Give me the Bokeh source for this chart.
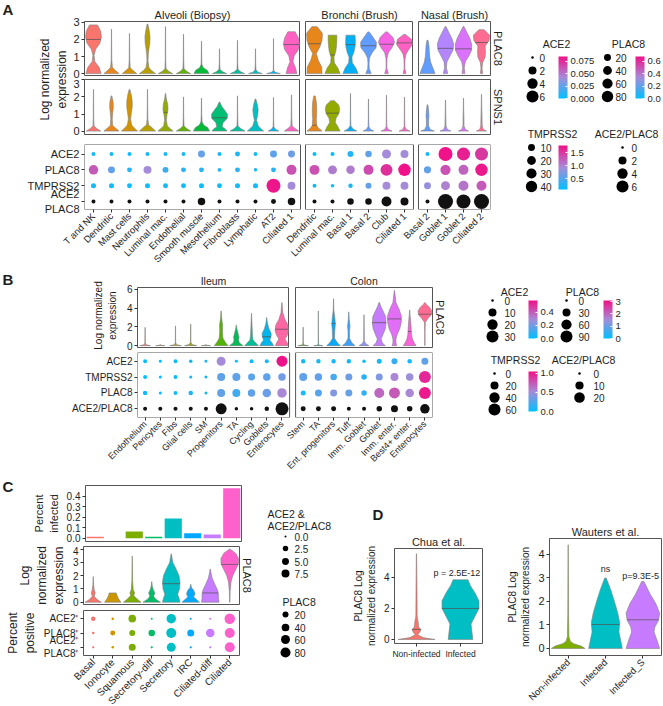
import numpy as np
from bokeh.plotting import figure
from bokeh.layouts import row, column
from bokeh.models import (Range1d, FixedTicker, LinearColorMapper, ColorBar, Title,
                          PrintfTickFormatter, ColumnDataSource, BoxAnnotation)
from bokeh.transform import transform
from bokeh.core.properties import value
from bokeh.embed import file_html
from bokeh.resources import INLINE

# ============================ DATA ============================
A_FACETS = ["Alveoli (Biopsy)", "Bronchi (Brush)", "Nasal (Brush)"]
A_ALV = ["T and NK", "Dendritic", "Mast cells", "Neutrophils", "Luminal mac.", "Endothelial",
         "Smooth muscle", "Mesothelium", "Fibroblasts", "Lymphatic", "AT2", "Ciliated 1"]
A_BRO = ["Dendritic", "Luminal mac.", "Basal 1", "Basal 2", "Club", "Ciliated 1"]
A_NAS = ["Basal 2", "Goblet 1", "Goblet 2", "Ciliated 2"]
A_ROWS = ["ACE2", "PLAC8", "TMPRSS2", "ACE2\nPLAC8"]
A_STRIPS = ["PLAC8", "SPNS1"]

A_PLAC8_ALV = [
    [0, .42, .36, .32, .71, .07, 1.07, .03, 1.43, .12, 1.78, .36, 2.14, .44, 2.49, .40, 2.85, .22],
    [0, .42, .2, .2, .37, .05, .8, .015, 1.5, .01, 2.6, .004],
    [0, .40, .2, .18, .34, .04, .8, .015, 1.5, .01, 2.35, .004],
    [0, .45, .2, .2, .36, .08, .73, .03, 1.09, .04, 1.45, .08, 1.81, .13, 2.18, .14, 2.54, .09, 2.9, .02],
    [0, .40, .15, .15, .3, .03, .8, .012, 1.5, .01, 2.75, .004],
    [0, .40, .15, .15, .3, .03, .8, .012, 1.5, .008, 2.3, .004],
    [0, .42, .2, .32, .35, .1, .55, .02, 1.0, .012, 1.9, .004],
    [0, .40, .12, .15, .25, .03, .6, .012, 1.45, .004],
    [0, .40, .12, .15, .25, .03, .6, .012, 1.95, .004],
    [0, .38, .1, .12, .22, .03, .6, .01, 1.45, .004],
    [0, .38, .08, .1, .18, .015, .6, .006, 2.05, .003],
    [0, .30, .35, .22, .7, .08, 1.05, .15, 1.4, .38, 1.75, .45, 2.1, .38, 2.45, .2],
]
A_PLAC8_ALV_MED = [2.0, None, None, None, None, None, None, None, None, None, None, 1.7]
A_PLAC8_BRO = [
    [0, .42, .39, .40, .79, .2, 1.18, .1, 1.57, .3, 1.96, .42, 2.36, .44, 2.75, .15],
    [0, .42, .32, .3, .64, .1, .96, .08, 1.29, .18, 1.61, .22, 1.93, .24, 2.25, .24],
    [0, .42, .32, .3, .64, .1, .96, .08, 1.29, .2, 1.61, .26, 1.93, .27, 2.25, .25],
    [0, .15, .3, .04, .61, .03, .91, .05, 1.22, .2, 1.52, .42, 1.83, .44, 2.13, .25, 2.44, .04],
    [0, .1, .3, .02, .61, .02, .91, .03, 1.22, .1, 1.52, .3, 1.83, .45, 2.13, .35, 2.44, .05],
    [0, .08, .29, .02, .57, .02, .86, .03, 1.14, .08, 1.43, .25, 1.71, .44, 2.0, .40, 2.29, .05],
]
A_PLAC8_BRO_MED = [1.75, 1.1, 1.7, 1.63, 1.72, 1.8]
A_PLAC8_NAS = [
    [0, .42, .33, .30, .65, .18, .98, .12, 1.3, .10, 1.63, .08, 1.95, .03],
    [0, .12, .35, .05, .69, .08, 1.04, .25, 1.38, .42, 1.73, .45, 2.07, .35, 2.42, .18, 2.76, .02],
    [0, .08, .35, .04, .69, .1, 1.04, .3, 1.38, .45, 1.73, .45, 2.07, .35, 2.42, .18, 2.76, .02],
    [0, .06, .32, .03, .64, .06, .96, .2, 1.29, .22, 1.61, .2, 1.93, .42, 2.25, .45, 2.57, .15],
]
A_PLAC8_NAS_MED = [None, 1.48, 1.45, 1.82]
A_SPNS1_ALV = [
    [0, .40, .15, .18, .3, .03, .8, .012, 1.5, .01, 2.44, .004],
    [0, .42, .2, .2, .34, .06, .69, .04, 1.03, .06, 1.37, .10, 1.71, .09, 2.06, .02],
    [0, .45, .2, .25, .35, .12, .7, .06, 1.05, .1, 1.4, .15, 1.75, .15, 2.1, .1, 2.44, .02],
    [0, .45, .2, .25, .35, .06, .7, .02, 1.5, .01, 2.44, .004],
    [0, .42, .2, .2, .31, .10, .63, .05, .94, .08, 1.26, .14, 1.57, .12, 1.88, .05, 2.2, .01],
    [0, .40, .15, .18, .3, .03, .8, .012, 2.0, .004],
    [0, .45, .2, .35, .35, .12, .55, .03, 1.0, .012, 1.93, .004],
    [0, .42, .15, .3, .24, .15, .49, .2, .73, .42, .97, .45, 1.21, .3, 1.46, .12, 1.7, .02],
    [0, .42, .15, .18, .3, .03, .8, .012, 2.06, .004],
    [0, .45, .2, .25, .31, .15, .63, .06, .94, .12, 1.25, .15, 1.56, .10, 1.88, .02],
    [0, .30, .12, .1, .25, .02, .8, .008, 1.97, .003],
    [0, .40, .15, .2, .3, .04, .8, .015, 2.12, .005],
]
A_SPNS1_ALV_MED = [None, None, None, None, 1.1, None, None, 0.78, None, None, None, None]
A_SPNS1_BRO = [
    [0, .42, .2, .2, .34, .12, .69, .1, 1.03, .12, 1.37, .12, 1.71, .1, 2.06, .04],
    [0, .42, .25, .3, .51, .15, .76, .2, 1.02, .35, 1.27, .4, 1.52, .35, 1.78, .1],
    [0, .35, .12, .15, .3, .02, .8, .01, 2.2, .004],
    [0, .30, .1, .12, .25, .02, .8, .01, 1.88, .004],
    [0, .30, .1, .1, .25, .02, .8, .01, 2.1, .004],
    [0, .30, .1, .1, .25, .02, .8, .01, 2.0, .004],
]
A_SPNS1_BRO_MED = [0.34, 1.05, None, None, None, None]
A_SPNS1_NAS = [
    [0, .38, .1, .15, .3, .06, .6, .06, .9, .08, 1.2, .06, 1.54, .02],
    [0, .30, .1, .1, .3, .03, .8, .02, 1.3, .01, 1.82, .004],
    [0, .28, .1, .1, .3, .03, .8, .025, 1.3, .01, 1.93, .004],
    [0, .28, .1, .1, .3, .04, .8, .03, 1.4, .015, 2.15, .004],
]
A_SPNS1_NAS_MED = [None, None, None, None]

A_ACE2_PCT = [0.15, 0.15, 0.15, 0.15, 0.15, 0.15, 1.3, 0.15, 0.4, 0.15, 1.3, 1.3,
              0.15, 0.15, 0.8, 1.05, 2.8, 2.0, 0.15, 8.7, 7.3, 7.3]
A_ACE2_AVG = [0.004, 0.004, 0.004, 0.004, 0.004, 0.004, 0.026, 0.004, 0.006, 0.004, 0.024, 0.028,
              0.002, 0.002, 0.01, 0.024, 0.042, 0.042, 0.004, 0.085, 0.08, 0.072]
A_PLAC8_PCT = [49, 20, 6, 30, 12, 6, 6, 2, 6, 1, 6, 56,
               56, 42, 36, 56, 90, 100, 22, 60, 56, 100]
A_PLAC8_AVG = [0.48, 0.2, 0.08, 0.34, 0.12, 0.08, 0.08, 0.06, 0.08, 0.04, 0.08, 0.5,
               0.5, 0.38, 0.38, 0.52, 0.6, 0.68, 0.2, 0.5, 0.45, 0.66]
A_TMPRSS2_PCT = [3.2, 3.2, 3.0, 3.2, 3.2, 3.0, 3.2, 3.0, 3.2, 3.2, 67, 15,
                 1.1, 0.5, 2.0, 6.3, 15, 15, 10, 21, 29, 29]
A_TMPRSS2_AVG = [0.17, 0.17, 0.16, 0.17, 0.17, 0.16, 0.18, 0.16, 0.17, 0.18, 1.75, 0.94,
                 0.15, 0.15, 0.2, 0.6, 0.94, 0.94, 0.85, 1.02, 1.1, 1.28]
A_RATIO_PCT = [0.15, 0.15, 0.15, 0.15, 0.15, 0.15, 1.64, 0.15, 0.15, 0.15, 0.4, 1.64,
               0.15, 0.15, 1.05, 1.05, 3.7, 2.0, 0.15, 10.3, 8.7, 10.3]

B_FACETS = ["Ileum", "Colon"]
B_ILE = ["Endothelium", "Pericytes", "Fibs", "Glial cells", "SM", "Progenitors", "TA",
         "Cycling", "Goblets", "Enterocytes"]
B_COL = ["Stem", "TA", "Ent. progenitors", "Tuft", "Imm. Goblet", "Goblet", "Imm. enter.",
         "Best4+ enter.", "Enterocytes"]
B_ROWS = ["ACE2", "TMPRSS2", "PLAC8", "ACE2/PLAC8"]
B_ILE_V = [
    [0, .35, .1, .06, .3, .012, 1.95, .004],
    [0, .30, .05, .02, .12, .004],
    [0, .38, .1, .08, .3, .012, 2.1, .004],
    [0, .40, .12, .1, .35, .015, 2.3, .004],
    [0, .30, .05, .02, .12, .004],
    [0, .45, .3, .3, .8, .12, 1.5, .09, 2.2, .1, 2.9, .04, 3.7, .005],
    [0, .45, .3, .2, .6, .15, .9, .18, 1.3, .12, 1.8, .04, 2.2, .005],
    [0, .45, .25, .3, .6, .1, 1.2, .06, 2.0, .04, 2.8, .02, 3.45, .004],
    [0, .45, .3, .35, .6, .2, .9, .28, 1.3, .3, 1.8, .15, 2.4, .05, 3.0, .005],
    [0, .42, .3, .35, .7, .2, 1.1, .35, 1.6, .45, 2.2, .4, 2.8, .2, 3.5, .06, 4.6, .005],
]
B_ILE_MED = [None, None, None, None, None, None, None, None, 0.95, 1.75]
B_COL_V = [
    [0, .35, .08, .05, .3, .01, 1.97, .004],
    [0, .30, .06, .03, .3, .008, 3.7, .004],
    [0, .45, .3, .25, .8, .06, 1.6, .08, 2.3, .12, 3.0, .08, 3.8, .02, 5.0, .004],
    [0, .42, .3, .2, .8, .05, 1.5, .05, 2.1, .08, 2.8, .03, 3.6, .004],
    [0, .32, .2, .12, .5, .02, 3.3, .004],
    [0, .40, .3, .2, .7, .12, 1.2, .25, 1.8, .4, 2.4, .45, 3.1, .42, 3.7, .25, 4.2, .1, 4.6, .02],
    [0, .15, .3, .1, .7, .1, 1.2, .18, 1.8, .35, 2.5, .45, 3.2, .45, 3.9, .3, 4.6, .1, 5.9, .005],
    [0, .42, .3, .3, .7, .18, 1.2, .12, 1.8, .1, 2.5, .07, 3.2, .03, 3.8, .004],
    [0, .01, 1.5, .01, 2.5, .03, 2.9, .2, 3.3, .42, 3.7, .45, 4.1, .3, 4.4, .1, 4.6, .01],
]
B_COL_MED = [None, None, 2.35, None, None, 2.45, 2.85, 1.5, 3.35]

B_ACE2_PCT = [0.74, 0.08, 0.74, 0.33, 0.08, 14, 0.08, 0.74, 0.74, 24,
              1.3, 1.3, 1.3, 1.3, 0.33, 2.1, 4.0, 1.3, 6.7]
B_ACE2_AVG = [0.02, 0.01, 0.02, 0.01, 0.01, 0.29, 0.01, 0.02, 0.03, 0.58,
              0.03, 0.03, 0.03, 0.03, 0.02, 0.04, 0.1, 0.04, 0.17]
B_TMPRSS2_PCT = [1.5, 0.17, 1.5, 0.17, 0.17, 20, 20, 13.4, 16.5, 16.5,
                 20, 16.5, 10.6, 13.4, 6.0, 13.4, 20, 16.5, 60]
B_TMPRSS2_AVG = [0.03, 0.02, 0.03, 0.02, 0.02, 0.3, 0.3, 0.28, 0.3, 0.36,
                 0.3, 0.3, 0.22, 0.35, 0.12, 0.4, 0.55, 0.5, 0.95]
B_PLAC8_PCT = [4.0, 0.25, 2.25, 4.0, 0.25, 30, 30, 25, 36, 49,
               6.25, 20, 20, 20, 9, 56, 72, 36, 90]
B_PLAC8_AVG = [0.15, 0.1, 0.15, 0.2, 0.1, 0.9, 0.6, 0.9, 1.0, 1.6,
               0.15, 0.8, 1.2, 0.95, 0.45, 2.0, 2.2, 1.6, 3.0]
B_RATIO_PCT = [0.7, 0.7, 0.7, 0.7, 0.7, 22, 0.3, 0.3, 1.2, 34,
               1.9, 1.9, 1.9, 0.7, 0.7, 2.8, 6.25, 2.8, 15]

C_CELLS = ["Basal", "Ionocyte", "Squamous", "Secretory-diff", "Secretory", "IRC",
           "Ciliated-diff", "Ciliated"]
C_INFECTED = [0.015, 0.0, 0.065, 0.015, 0.187, 0.048, 0.037, 0.475]
C_V = [
    [0, .42, .2, .2, .45, .05, .7, .1, .95, .05, 1.3, .02, 1.93, .004],
    [0, .42, .15, .35, .3, .28, .5, .22, .7, .18],
    [0, .45, .25, .25, .5, .08, .7, .12, .95, .05, 1.6, .02, 3.48, .004],
    [0, .45, .25, .2, .45, .1, .7, .16, .95, .08, 1.2, .03, 1.55, .004],
    [0, .45, .3, .4, .6, .33, 1.0, .42, 1.5, .45, 2.0, .4, 2.5, .25, 3.0, .08, 3.64, .01],
    [0, .45, .2, .3, .4, .15, .65, .22, .9, .15, 1.1, .04, 1.35, .004],
    [0, .45, .3, .42, .6, .42, .9, .38, 1.3, .25, 1.8, .1, 2.2, .04, 2.5, .004],
    [0, .01, .8, .02, 1.5, .06, 2.0, .15, 2.5, .32, 2.9, .45, 3.3, .45, 3.7, .3, 4.0, .02],
]
C_MED = [None, None, None, None, 1.4, None, 0.7, 2.85]
C_ROWS = ["ACE2\u207a", "PLAC8\u207a", "ACE2\u207a\nPLAC8\u207a"]
C_ACE2_PCT = [1.3, 0.05, 6.5, 0.0, 11.6, 0.0, 0.0, 15.0]
C_PLAC8_PCT = [0.3, 11, 20, 25, 79, 31, 52, 79]
C_BOTH_PCT = [0.02, 0.05, 5.2, 0.01, 10.1, 0.01, 0.01, 13.2]

D_CHUA = ["Non-infected", "Infected"]
D_CHUA_V = [
    [0, .42, .12, .15, .3, .03, .5, .08, .65, .1, .8, .05, 1.1, .04, 1.5, .015, 3.5, .01, 5.53, .003],
    [0, .28, .5, .26, 1.0, .24, 1.5, .33, 2.0, .42, 2.5, .42, 3.0, .33, 3.5, .22, 3.85, .17],
]
D_CHUA_MED = [0.65, 2.0]
D_CHUA_P = ["p = 2.5E-12"]
D_CHUA_P_Y = [4.3]
D_WAU = ["Non-infected", "Infected", "Infected_S"]
D_WAU_V = [
    [0, .45, .1, .35, .2, .15, .3, .06, .5, .02, 1.5, .01, 4.41, .003],
    [0, .45, .4, .4, .7, .36, 1.1, .38, 1.5, .33, 2.0, .24, 2.5, .14, 3.0, .02],
    [0, .45, .35, .38, .7, .3, .9, .32, 1.2, .42, 1.5, .45, 1.9, .35, 2.3, .2, 2.85, .03],
]
D_WAU_MED = [None, 1.02, 1.22]
D_WAU_P = ["ns", "p=9.3E-5"]
D_WAU_P_Y = [3.4, 3.1]

# ============================ STYLE ============================
A_ALV_COL = ["#F8766D", "#E7861B", "#D39200", "#B79F00", "#93AA00", "#5EB300",
             "#00BA38", "#00BF74", "#00C19F", "#00BFC4", "#00B4F0", "#FF61C3"]
A_BRO_COL = ["#E7861B", "#93AA00", "#00B0F6", "#619CFF", "#F564E3", "#FF61C3"]
A_NAS_COL = ["#619CFF", "#B385FF", "#DB72FB", "#FF6C91"]
B_ILE_COL = ["#F8766D", "#D89000", "#BB9D00", "#A3A500", "#7CAE00", "#53B400",
             "#00BC56", "#00C094", "#00B6EB", "#FF67A4"]
B_COL_COL = ["#39B600", "#00BF7D", "#00ABFD", "#35A2FF", "#8F91FF", "#C77CFF",
             "#E36EF6", "#FA62DB", "#FF6C91"]
C_COL = ["#F8766D", "#CD9600", "#7CAE00", "#00BE67", "#00BFC4", "#00A9FF", "#C77CFF", "#FF61CC"]
D_CHUA_COL = ["#F8766D", "#00BFC4"]
D_WAU_COL = ["#7CAE00", "#00BFC4", "#C77CFF"]

FONT = "Liberation Sans"
TXT = "#1e1e1e"
EDGE = "#555555"
VLINE = "#808080"

def ramp(stops, n=256):
    rgb = [tuple(int(h[i:i + 2], 16) for i in (1, 3, 5)) for h in stops]
    m = len(rgb) - 1
    out = []
    for i in range(n):
        t = i / (n - 1) * m
        k = min(int(t), m - 1)
        f = t - k
        c = [round(rgb[k][j] + (rgb[k + 1][j] - rgb[k][j]) * f) for j in range(3)]
        out.append("#%02x%02x%02x" % tuple(c))
    return out

PAL = ramp(["#00BFFF", "#A68CD8", "#F01288"])

def style_axis(ax, fs="10px"):
    ax.axis_line_color = None
    ax.major_tick_line_color = "#333333"
    ax.major_tick_out = 3
    ax.major_tick_in = 0
    ax.minor_tick_line_color = None
    ax.major_label_text_font = FONT
    ax.major_label_text_font_size = fs
    ax.major_label_text_color = TXT
    ax.major_label_standoff = 2
    ax.axis_label_text_font = FONT
    ax.axis_label_text_font_style = "normal"
    ax.axis_label_text_color = TXT
    ax.axis_label_standoff = 4

def mk(fw, fh, xr, yr, l=0, r=0, t=0, b=0, xaxis=True, yaxis=True, outline=True, title=None,
       title_size="11px"):
    p = figure(frame_width=fw, frame_height=fh, x_range=Range1d(*xr), y_range=Range1d(*yr),
               output_backend="svg", toolbar_location=None, title=title,
               x_axis_location="below" if xaxis else None,
               y_axis_location="left" if yaxis else None,
               min_border_left=l, min_border_right=r, min_border_top=t, min_border_bottom=b)
    p.grid.visible = False
    p.outline_line_color = EDGE if outline else None
    p.outline_line_width = 1
    p.background_fill_color = "white"
    p.border_fill_color = "white"
    for ax in p.axis:
        style_axis(ax)
    if title is not None:
        p.title.text_font = FONT
        p.title.text_font_size = title_size
        p.title.text_font_style = "normal"
        p.title.text_color = TXT
        p.title.align = "center"
        p.title.standoff = 2
    return p

def right_strip(p, text):
    p.add_layout(Title(text=text, align="center", text_font=FONT, text_font_size="11px",
                       text_font_style="normal", text_color=TXT, standoff=3), "right")

def draw_violins(p, xs, shapes, medians, colors):
    px, py = [], []
    for x, k in zip(xs, shapes):
        y = np.asarray(k[0::2], float)
        w = np.asarray(k[1::2], float)
        px.append(np.concatenate([x - w, (x + w)[::-1]]).tolist())
        py.append(np.concatenate([y, y[::-1]]).tolist())
    p.patches(px, py, fill_color=list(colors), line_color=VLINE, line_width=0.6)
    x0, x1, ym = [], [], []
    for x, k, m in zip(xs, shapes, medians):
        if m is None:
            continue
        hw = float(np.interp(m, np.asarray(k[0::2], float), np.asarray(k[1::2], float)))
        x0.append(x - hw); x1.append(x + hw); ym.append(m)
    if ym:
        p.segment(x0, ym, x1, ym, line_color="#505050", line_width=0.7)

def draw_dots(p, xs, yrow, pct, k, dmin, fill=None, mapper=None, avg=None):
    data = dict(x=list(xs), y=[yrow] * len(xs), size=[dmin + k * np.sqrt(v) for v in pct])
    if mapper is not None:
        data["avg"] = list(avg)
        fc = transform("avg", mapper)
    elif isinstance(fill, list):
        data["fc"] = fill
        fc = "fc"
    else:
        fc = fill
    p.scatter("x", "y", size="size", source=ColumnDataSource(data), fill_color=fc, line_color=None)

def dot_axes(p, xs, names, rows, xfs="10px", yfs="11px"):
    p.xaxis.ticker = FixedTicker(ticks=list(xs))
    p.xaxis.major_label_overrides = {x: n for x, n in zip(xs, names)}
    p.xaxis.major_label_orientation = np.pi / 4
    p.xaxis.major_label_text_font_size = xfs
    n = len(rows)
    p.yaxis.ticker = FixedTicker(ticks=list(range(n)))
    p.yaxis.major_label_overrides = {n - 1 - i: r for i, r in enumerate(rows)}
    p.yaxis.major_label_text_font_size = yfs

def free_fig(x0, y0, w, h):
    # text-only canvas, wrapped in its own column so that no frame alignment is applied
    p = figure(frame_width=w, frame_height=h, x_range=Range1d(x0, x0 + w),
               y_range=Range1d(-(y0 + h), -y0),
               output_backend="svg", toolbar_location=None, x_axis_location=None,
               y_axis_location=None, min_border=0, min_border_left=0, min_border_right=0,
               min_border_top=0, min_border_bottom=0, title=None)
    p.grid.visible = False
    p.outline_line_color = None
    p.background_fill_color = "white"
    p.border_fill_color = "white"
    return p

def txt(p, xs, ys, texts, size="10px", align="left", baseline="middle", angle=0.0, style="normal"):
    p.text(x=list(xs), y=[-v for v in ys], text=list(texts), text_font=value(FONT),
           text_font_size=size, text_align=align, text_baseline=baseline, angle=angle,
           text_color=TXT, text_font_style=style)

def size_key(p, x_dot, x_lab, ys, breaks, labels, k, dmin):
    p.scatter(x=[x_dot] * len(breaks), y=[-v for v in ys],
              size=[dmin + k * np.sqrt(b) for b in breaks], fill_color="black", line_color=None)
    txt(p, [x_lab] * len(breaks), ys, labels, size="10px")

def cbar(p, mapper, ticks, fmt, x, ytop, ybot, x0, y0, h):
    cb = ColorBar(color_mapper=mapper, ticker=FixedTicker(ticks=ticks),
                  formatter=PrintfTickFormatter(format=fmt), orientation="vertical",
                  width=9, height=ybot - ytop, location=(x - x0, y0 + h - ybot),
                  padding=0, margin=0, bar_line_color=None, major_tick_line_color="white",
                  major_tick_in=2, major_tick_out=0, minor_tick_line_color=None, label_standoff=3,
                  major_label_text_font=FONT, major_label_text_font_size="9.5px",
                  major_label_text_color=TXT, background_fill_alpha=0, border_line_color=None)
    p.add_layout(cb)

R = row
C = column

# ============================ PANEL A ============================
A_YR1 = (-0.11, 3.05)
A_YR2 = (-0.2, 3.02)
A_W = [216, 108, 72]
A_L = [14, 5, 5]
A_R = [0, 0, 18]
A_T, A_H1, A_B1, A_H2, A_B2 = 21, 54, 4, 55, 5
A_DT, A_DH, A_DB = 5, 65, 59
A_HEIGHT = A_T + A_H1 + A_B1 + A_H2 + A_B2 + A_DT + A_DH + A_DB
a_v1, a_v2 = [], []
for fi, (cats, sh1, m1, sh2, m2, cols) in enumerate([
        (A_ALV, A_PLAC8_ALV, A_PLAC8_ALV_MED, A_SPNS1_ALV, A_SPNS1_ALV_MED, A_ALV_COL),
        (A_BRO, A_PLAC8_BRO, A_PLAC8_BRO_MED, A_SPNS1_BRO, A_SPNS1_BRO_MED, A_BRO_COL),
        (A_NAS, A_PLAC8_NAS, A_PLAC8_NAS_MED, A_SPNS1_NAS, A_SPNS1_NAS_MED, A_NAS_COL)]):
    n = len(cats)
    xs = list(range(n))
    p1 = mk(A_W[fi], A_H1, (-0.5, n - 0.5), A_YR1, l=A_L[fi], r=A_R[fi], t=A_T, b=A_B1,
            xaxis=False, yaxis=(fi == 0), title=A_FACETS[fi])
    p2 = mk(A_W[fi], A_H2, (-0.5, n - 0.5), A_YR2, l=A_L[fi], r=A_R[fi], t=0, b=A_B2,
            xaxis=False, yaxis=(fi == 0))
    if fi == 0:
        for p in (p1, p2):
            p.yaxis.ticker = FixedTicker(ticks=[0, 1, 2, 3])
            p.yaxis.major_label_text_font_size = "11px"
    draw_violins(p1, xs, sh1, m1, cols)
    draw_violins(p2, xs, sh2, m2, cols)
    if fi == 2:
        right_strip(p1, A_STRIPS[0])
        right_strip(p2, A_STRIPS[1])
    a_v1.append(p1)
    a_v2.append(p2)

ylabA = free_fig(0, 0, 70, A_T + A_H1 + A_B1 + A_H2 + A_B2)
txt(ylabA, [2], [9], ["A"], size="15px", style="bold")
txt(ylabA, [53], [79], ["Log normalized\nexpression"], size="12px", align="center", angle=np.pi / 2)

slotA = 216 / 12.0
gA = 5 / slotA
xs_A = ([float(i) for i in range(12)] + [round(12 + gA + j, 4) for j in range(6)]
        + [round(18 + 2 * gA + j, 4) for j in range(4)])
dotA = figure(frame_width=216 + 5 + 108 + 5 + 72, frame_height=A_DH,
              x_range=Range1d(-0.5, round(21.5 + 2 * gA, 4)), y_range=Range1d(-0.5, 3.6),
              output_backend="svg", toolbar_location=None, title=None,
              min_border_left=84, min_border_right=18, min_border_top=A_DT, min_border_bottom=A_DB)
dotA.grid.visible = False
dotA.outline_line_color = None
for ax in dotA.axis:
    style_axis(ax)
dot_axes(dotA, xs_A, A_ALV + A_BRO + A_NAS, A_ROWS, xfs="9.5px", yfs="11px")
for (lo, hi) in [(-0.5, 11.5), (12 + gA - 0.5, 17.5 + gA), (18 + 2 * gA - 0.5, 21.5 + 2 * gA)]:
    dotA.add_layout(BoxAnnotation(left=lo, right=hi, fill_color=None, fill_alpha=0,
                                  line_color=EDGE, line_alpha=1, line_width=1))
mA_ace2 = LinearColorMapper(palette=PAL, low=0.0, high=0.085)
mA_plac8 = LinearColorMapper(palette=PAL, low=0.0, high=0.68)
mA_tmp = LinearColorMapper(palette=PAL, low=0.08, high=1.79)
KA = dict(ace2=3.9, plac8=1.0, tmp=1.4, ratio=3.9)
draw_dots(dotA, xs_A, 3, A_ACE2_PCT, KA["ace2"], 2.5, mapper=mA_ace2, avg=A_ACE2_AVG)
draw_dots(dotA, xs_A, 2, A_PLAC8_PCT, KA["plac8"], 2.5, mapper=mA_plac8, avg=A_PLAC8_AVG)
draw_dots(dotA, xs_A, 1, A_TMPRSS2_PCT, KA["tmp"], 2.5, mapper=mA_tmp, avg=A_TMPRSS2_AVG)
draw_dots(dotA, xs_A, 0, A_RATIO_PCT, KA["ratio"], 2.5, fill="#111111")

LAx, LAy, LAw, LAh = 508, 0, 155, A_HEIGHT
legA = free_fig(LAx, LAy, LAw, LAh)
txt(legA, [556, 628, 552, 626], [43, 43, 133, 133], ["ACE2", "PLAC8", "TMPRSS2", "ACE2/PLAC8"],
    size="10.5px", align="center")
size_key(legA, 532, 539, [57, 70, 83, 96], [0, 2, 4, 6], ["0", "2", "4", "6"], KA["ace2"], 2.5)
size_key(legA, 607, 615, [57, 70, 83, 96], [20, 40, 60, 80], ["20", "40", "60", "80"], KA["plac8"], 2.5)
size_key(legA, 531, 540, [147, 160, 173, 186], [10, 20, 30, 40], ["10", "20", "30", "40"], KA["tmp"], 2.5)
size_key(legA, 622, 631, [147, 160, 173, 186], [0, 2, 4, 6], ["0", "2", "4", "6"], KA["ratio"], 2.5)
cbar(legA, mA_ace2, [0, 0.025, 0.05, 0.075], "%.3f", 558, 56, 98, LAx, LAy, LAh)
cbar(legA, mA_plac8, [0, 0.2, 0.4, 0.6], "%.1f", 635, 56, 98, LAx, LAy, LAh)
cbar(legA, mA_tmp, [0.5, 1.0, 1.5], "%.1f", 558, 145, 189, LAx, LAy, LAh)

colA = C(R(C(ylabA), C(R(*a_v1), R(*a_v2))), dotA)
blockA = R(colA, C(legA))

# ============================ PANEL B ============================
B_YR = (-0.2, 6.2)
B_Y0 = 263
B_T, B_H, B_BB = 15, 60, 5
B_DH, B_DB = 65, 59
B_HEIGHT = B_T + B_H + B_BB + B_DH + B_DB
ile_v = mk(152, B_H, (-0.5, 9.5), B_YR, l=17, r=0, t=B_T, b=B_BB, xaxis=False,
           title=B_FACETS[0], title_size="10.5px")
col_v = mk(137, B_H, (-0.5, 8.5), B_YR, l=6, r=22, t=B_T, b=B_BB, xaxis=False, yaxis=False,
           title=B_FACETS[1], title_size="10.5px")
ile_v.yaxis.ticker = FixedTicker(ticks=[0, 2, 4, 6])
draw_violins(ile_v, list(range(10)), B_ILE_V, B_ILE_MED, B_ILE_COL)
draw_violins(col_v, list(range(9)), B_COL_V, B_COL_MED, B_COL_COL)
right_strip(col_v, "PLAC8")

ylabB = free_fig(0, B_Y0, 120, B_T + B_H + B_BB)
txt(ylabB, [2], [B_Y0 + 8], ["B"], size="15px", style="bold")
txt(ylabB, [105], [B_Y0 + 44], ["Log normalized\nexpression"], size="10px", align="center",
    angle=np.pi / 2)

slotB = 152 / 10.0
gB = 6 / slotB
xs_B = [float(i) for i in range(10)] + [round(10 + gB + j, 4) for j in range(9)]
dotB = figure(frame_width=152 + 6 + 137, frame_height=B_DH,
              x_range=Range1d(-0.5, round(18.5 + gB, 4)), y_range=Range1d(-0.55, 3.55),
              output_backend="svg", toolbar_location=None, title=None,
              min_border_left=137, min_border_right=22, min_border_top=0, min_border_bottom=B_DB)
dotB.grid.visible = False
dotB.outline_line_color = None
for ax in dotB.axis:
    style_axis(ax)
dot_axes(dotB, xs_B, B_ILE + B_COL, B_ROWS, xfs="9px", yfs="10px")
for (lo, hi) in [(-0.5, 9.5), (10 + gB - 0.5, 18.5 + gB)]:
    dotB.add_layout(BoxAnnotation(left=lo, right=hi, fill_color=None, fill_alpha=0,
                                  line_color=EDGE, line_alpha=1, line_width=1))
mB_ace2 = LinearColorMapper(palette=PAL, low=0.0, high=0.58)
mB_plac8 = LinearColorMapper(palette=PAL, low=0.0, high=3.1)
mB_tmp = LinearColorMapper(palette=PAL, low=0.0, high=1.05)
KB = dict(ace2=1.74, tmp=1.23, plac8=1.0, ratio=1.8)
draw_dots(dotB, xs_B, 3, B_ACE2_PCT, KB["ace2"], 2.5, mapper=mB_ace2, avg=B_ACE2_AVG)
draw_dots(dotB, xs_B, 2, B_TMPRSS2_PCT, KB["tmp"], 2.5, mapper=mB_tmp, avg=B_TMPRSS2_AVG)
draw_dots(dotB, xs_B, 1, B_PLAC8_PCT, KB["plac8"], 2.5, mapper=mB_plac8, avg=B_PLAC8_AVG)
draw_dots(dotB, xs_B, 0, B_RATIO_PCT, KB["ratio"], 2.5, fill="#111111")

LBx, LBy, LBw, LBh = 454, B_Y0, 209, B_HEIGHT
legB = free_fig(LBx, LBy, LBw, LBh)
txt(legB, [514, 582, 515, 583], [283, 283, 351, 351], ["ACE2", "PLAC8", "TMPRSS2", "ACE2/PLAC8"],
    size="10.5px", align="center")
size_key(legB, 492, 504, [292, 304, 316, 328], [0, 10, 20, 30], ["0", "10", "20", "30"], KB["ace2"], 2.5)
size_key(legB, 566, 578, [292, 304, 316, 328], [0, 30, 60, 90], ["0", "30", "60", "90"], KB["plac8"], 2.5)
size_key(legB, 494, 505, [365, 377, 389, 401], [0, 20, 40, 60], ["0", "20", "40", "60"], KB["tmp"], 2.5)
size_key(legB, 579, 593, [365, 377, 389], [0, 10, 20], ["0", "10", "20"], KB["ratio"], 2.5)
cbar(legB, mB_ace2, [0, 0.2, 0.4], "%.1f", 528, 292, 330, LBx, LBy, LBh)
cbar(legB, mB_plac8, [0, 1, 2, 3], "%d", 603, 292, 330, LBx, LBy, LBh)
cbar(legB, mB_tmp, [0, 0.5, 1.0], "%.1f", 528, 363, 403, LBx, LBy, LBh)

colB = C(R(C(ylabB), ile_v, col_v), dotB)
blockB = R(colB, C(legB))

# ============================ PANEL C ============================
C_Y0 = 462
nC = len(C_CELLS)
xs_C = list(range(nC))
C_T, C_H1, C_B1 = 8, 56, 5
C_H2, C_B2 = 58, 6
C_H3, C_B3 = 45, 55
CD_HEIGHT = C_T + C_H1 + C_B1 + C_H2 + C_B2 + C_H3 + C_B3
c_bar = mk(156, C_H1, (-0.5, nC - 0.5), (-0.03, 0.5), l=53, r=18, t=C_T, b=C_B1, xaxis=False)
c_bar.vbar(x=xs_C, top=C_INFECTED, width=0.88, fill_color=C_COL, line_color=None)
c_bar.yaxis.ticker = FixedTicker(ticks=[0, 0.1, 0.2, 0.3, 0.4])
c_bar.yaxis.formatter = PrintfTickFormatter(format="%.1f")
c_bar.yaxis.axis_label = "Percent\ninfected"
c_bar.yaxis.axis_label_text_font_size = "11px"
letC = free_fig(0, C_Y0, 30, C_T + C_H1 + C_B1)
txt(letC, [2], [C_Y0 + 9], ["C"], size="15px", style="bold")

c_v = mk(156, C_H2, (-0.5, nC - 0.5), (-0.17, 4.2), l=83, r=18, t=0, b=C_B2, xaxis=False)
c_v.yaxis.ticker = FixedTicker(ticks=[0, 1, 2, 3, 4])
c_v.yaxis.axis_label = "Log\nnormalized\nexpression"
c_v.yaxis.axis_label_text_font_size = "12px"
draw_violins(c_v, xs_C, C_V, C_MED, C_COL)
right_strip(c_v, "PLAC8")

c_d = mk(156, C_H3, (-0.5, nC - 0.5), (-0.57, 2.57), l=83, r=18, t=0, b=C_B3)
dot_axes(c_d, xs_C, C_CELLS, C_ROWS, xfs="10px", yfs="10px")
c_d.yaxis.axis_label = "Percent\npositive"
c_d.yaxis.axis_label_text_font_size = "12px"
KC = dict(ace2=2.2, plac8=0.9)
draw_dots(c_d, xs_C, 2, C_ACE2_PCT, KC["ace2"], 2.0, fill=C_COL)
draw_dots(c_d, xs_C, 1, C_PLAC8_PCT, KC["plac8"], 2.0, fill=C_COL)
draw_dots(c_d, xs_C, 0, C_BOTH_PCT, KC["ace2"], 2.0, fill=C_COL)

LCx, LCy, LCw, LCh = 257, C_Y0, 85, CD_HEIGHT
legC = free_fig(LCx, LCy, LCw, LCh)
txt(legC, [265, 265, 280], [498, 510, 586], ["ACE2 &", "ACE2/PLAC8", "PLAC8"], size="10.5px")
size_key(legC, 283, 292, [521, 533, 546, 558], [0.0, 2.5, 5.0, 7.5], ["0.0", "2.5", "5.0", "7.5"],
         KC["ace2"], 2.0)
size_key(legC, 283, 292, [599, 612, 624, 637], [20, 40, 60, 80], ["20", "40", "60", "80"],
         KC["plac8"], 2.0)

colC = C(R(C(letC), c_bar), c_v, c_d)

# ============================ PANEL D ============================
D_LET_H = 48
letD = free_fig(342, C_Y0, 160, D_LET_H)
txt(letD, [370], [C_Y0 + 37], ["D"], size="15px", style="bold")
CH_T, CH_H = 23, 95
chua = mk(88, CH_H, (-0.5, 1.5), (-0.26, 5.87), l=50, r=22, t=CH_T,
          b=CD_HEIGHT - D_LET_H - CH_T - CH_H, title="Chua et al.")
chua.xaxis.ticker = FixedTicker(ticks=[0, 1])
chua.xaxis.major_label_overrides = {0: D_CHUA[0], 1: D_CHUA[1]}
chua.xaxis.major_label_text_font_size = "8.5px"
chua.yaxis.ticker = FixedTicker(ticks=[0, 2, 4])
chua.yaxis.axis_label = "PLAC8 Log\nnormalized expression"
chua.yaxis.axis_label_text_font_size = "10px"
draw_violins(chua, [0, 1], D_CHUA_V, D_CHUA_MED, D_CHUA_COL)
chua.text(x=[0.92], y=D_CHUA_P_Y, text=D_CHUA_P, text_font=value(FONT), text_font_size="9px",
          text_align="center", text_baseline="middle", text_color=TXT)

WA_T, WA_H = 61, 117
wau = mk(112, WA_H, (-0.5, 2.5), (-0.3, 4.68), l=41, r=6, t=WA_T, b=CD_HEIGHT - WA_T - WA_H,
         title="Wauters et al.")
wau.xaxis.ticker = FixedTicker(ticks=[0, 1, 2])
wau.xaxis.major_label_overrides = {0: D_WAU[0], 1: D_WAU[1], 2: D_WAU[2]}
wau.xaxis.major_label_orientation = np.pi / 4
wau.xaxis.major_label_text_font_size = "9.5px"
wau.yaxis.ticker = FixedTicker(ticks=[0, 1, 2, 3, 4])
wau.yaxis.major_label_text_font_size = "11px"
wau.yaxis.axis_label = "PLAC8 Log\nnormalized expression"
wau.yaxis.axis_label_text_font_size = "10px"
draw_violins(wau, [0, 1, 2], D_WAU_V, D_WAU_MED, D_WAU_COL)
wau.text(x=[1, 1.94], y=D_WAU_P_Y, text=D_WAU_P, text_font=value(FONT), text_font_size="9px",
         text_align="center", text_baseline="middle", text_color=TXT)

blockCD = R(colC, C(legC), C(C(letD), chua), C(wau))

page = C(blockA, blockB, blockCD)
open("out.html", "w").write(file_html(page, INLINE))
